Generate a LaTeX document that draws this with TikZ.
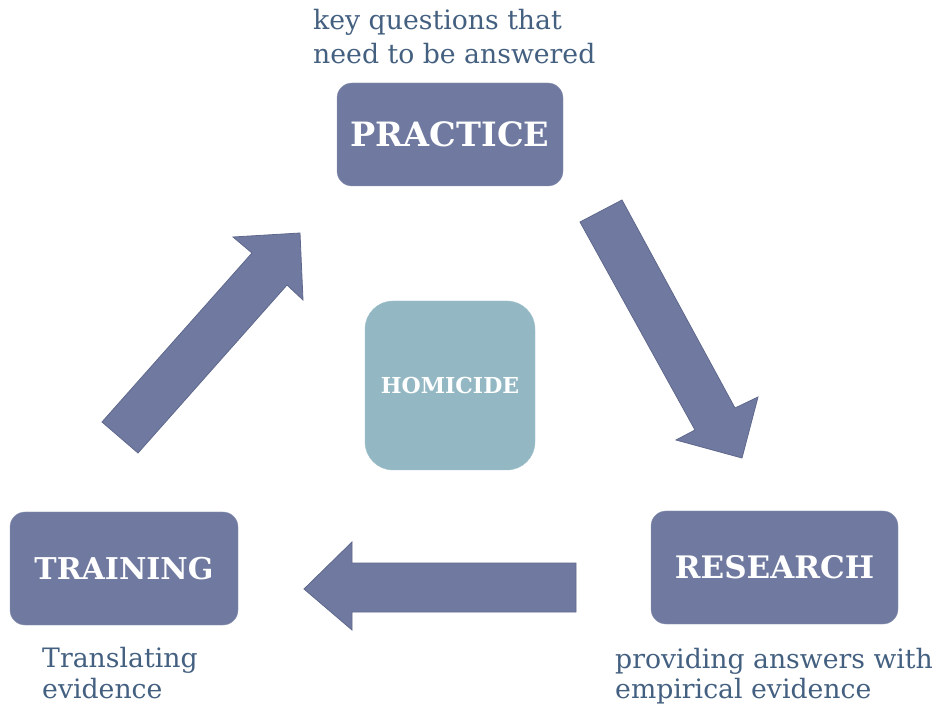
\documentclass[tikz,border=0pt]{standalone}
\usepackage{fontspec}
\setmainfont{DejaVu Serif}
\definecolor{boxblue}{RGB}{112,122,160}
\definecolor{boxedge}{RGB}{95,104,140}
\definecolor{teal}{RGB}{147,184,195}
\definecolor{txt}{RGB}{68,96,128}
\begin{document}
\begin{tikzpicture}[x=1pt,y=-1pt,
  mainbox/.style={fill=boxblue,draw=boxblue!80!white,rounded corners=15pt,inner sep=0pt},
  boxlabel/.style={text=white,font=\bfseries\fontsize{#1}{#1}\selectfont},
  note/.style={text=txt,font=\fontsize{26.7}{#1}\selectfont,align=left,anchor=north west,inner sep=0pt},
  blockarrow/.style={fill=boxblue,draw=boxedge,line width=0.8pt,line join=miter}]
\useasboundingbox (0,0) rectangle (935,708);
% boxes
\node[mainbox,minimum width=226pt,minimum height=103pt] (practice) at (450,134.5) {};
\node[boxlabel=33.5] at (practice) {PRACTICE};
\node[mainbox,minimum width=228pt,minimum height=113pt] (training) at (124,568.5) {};
\node[boxlabel=30] at (training) {TRAINING};
\node[mainbox,minimum width=247pt,minimum height=113pt] (research) at (774.5,567.5) {};
\node[boxlabel=31] at (research) {RESEARCH};
\node[fill=teal,draw=teal!85!white,rounded corners=28pt,minimum width=170pt,minimum height=169pt,inner sep=0pt] (homicide) at (450,385.5) {};
\node[boxlabel=22] at (homicide) {HOMICIDE};
% notes
\node[note=34] (n1) at (313,9.5) {key questions that\\need to be answered};
\node[note=31] (n2) at (42,647) {Translating\\evidence};
\node[note=30] (n3) at (615,648.5) {providing answers with\\empirical evidence};
% arrows
\draw[blockarrow] (580,222) -- (622,200) -- (735,408) -- (758,397) -- (742,458) -- (676,440) -- (695,430) -- cycle;
\draw[blockarrow] (102,422) -- (252,253) -- (233,237) -- (300,233) -- (303,300) -- (287,285) -- (138,453) -- cycle;
\draw[blockarrow] (576,563) -- (352,563) -- (352,542) -- (304,589) -- (352,630) -- (352,612) -- (576,612) -- cycle;
\end{tikzpicture}
\end{document}
